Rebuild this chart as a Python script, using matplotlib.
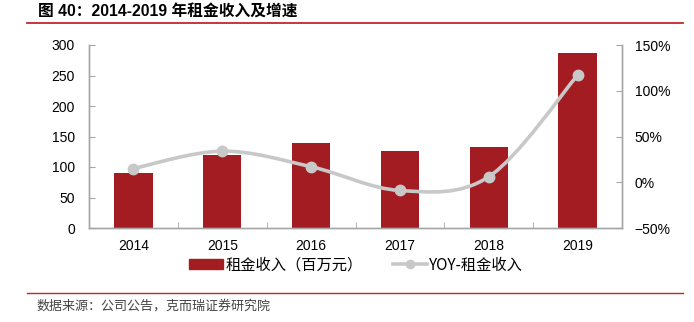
import matplotlib
matplotlib.use("Agg")
import matplotlib.pyplot as plt
from matplotlib.path import Path
from matplotlib.patches import PathPatch, Patch
from matplotlib.lines import Line2D
import numpy as np

years = ["2014", "2015", "2016", "2017", "2018", "2019"]
rent = [90, 120, 139, 126, 133, 287]
yoy = [15, 34, 17, -9, 6, 117]
left_ticks = [0, 50, 100, 150, 200, 250, 300]
right_ticks = [-50, 0, 50, 100, 150]

title = "图 40：2014-2019 年租金收入及增速"
source = "数据来源：公司公告，克而瑞证券研究院"
bar_label = "租金收入（百万元）"
line_label = "YOY-租金收入"

BAR = "#A31C22"
LINE = "#C8C8C8"
AXC = "#A6A6A6"
RED = "#C0272D"
CJK = ["Noto Sans CJK SC", "DejaVu Sans"]
LAT = ["Liberation Sans", "Noto Sans CJK SC"]

plt.rcParams["font.family"] = LAT

fig = plt.figure(figsize=(6.94, 3.22), dpi=100)
ax = fig.add_axes([89/694, 1-228/322, (622-89)/694, (228-45)/322])
ax2 = ax.twinx()

x = np.arange(len(years))
ax.bar(x, rent, width=0.43, color=BAR, zorder=2)
ax.set_xlim(-0.5, len(years)-0.5)
ax.set_ylim(0, 300)
ax.set_yticks(left_ticks)
ax.set_xticks(x)
ax.set_xticklabels(years)
ax.set_xticks(np.arange(len(years)+1)-0.5, minor=True)
ax.tick_params(axis="x", which="major", length=0, pad=8, labelsize=10)
ax.tick_params(axis="x", which="minor", length=4, direction="in", color=AXC)
ax.tick_params(axis="y", length=4, direction="in", color=AXC, pad=10, labelsize=10)

ax2.set_ylim(-50, 150)
ax2.set_yticks(right_ticks)
ax2.set_yticklabels([f"{v}%" if v >= 0 else f"\u2212{abs(v)}%" for v in right_ticks])
ax2.tick_params(axis="y", length=4, direction="in", color=AXC, pad=9, labelsize=10)

for a in (ax, ax2):
    a.spines["top"].set_visible(False)
    for s in ("left", "right", "bottom"):
        a.spines[s].set_color(AXC)
        a.spines[s].set_linewidth(1.0)

# smoothed line (Catmull-Rom -> cubic Bezier), drawn by matplotlib Path
pts = np.column_stack([x, yoy]).astype(float)
ext = np.vstack([pts[0], pts, pts[-1]])
verts = [tuple(pts[0])]
codes = [Path.MOVETO]
for i in range(len(pts)-1):
    p0, p1, p2, p3 = ext[i], ext[i+1], ext[i+2], ext[i+3]
    c1 = p1 + (p2 - p0) / 6.0
    c2 = p2 - (p3 - p1) / 6.0
    verts += [tuple(c1), tuple(c2), tuple(p2)]
    codes += [Path.CURVE4]*3
ax2.add_patch(PathPatch(Path(verts, codes), facecolor="none", edgecolor=LINE,
                        linewidth=2.6, zorder=3, capstyle="round"))
ax2.plot(x, yoy, linestyle="none", marker="o", markersize=7.5, color=LINE, zorder=4)

# title & lines
fig.text(38/694, 1-12/322, title, fontsize=11.3, fontweight="bold",
         family=["Liberation Sans", "Noto Sans CJK SC"], va="center", ha="left")
fig.add_artist(Line2D([27/694, 683/694], [1-23/322, 1-23/322], color=RED, lw=1.3))
fig.add_artist(Line2D([27/694, 683/694], [1-293/322, 1-293/322], color=RED, lw=1.0))
fig.text(37/694, 1-306/322, source, fontsize=9.4, family=CJK, color="#444444",
         va="center", ha="left")

handles = [Patch(facecolor=BAR, edgecolor=BAR),
           Line2D([], [], color=LINE, lw=2.6, marker="o", markersize=6)]
fig.legend(handles, [bar_label, line_label], loc="center",
           bbox_to_anchor=(356/694, 1-265/322), ncol=2, frameon=False,
           prop={"family": CJK, "size": 11}, handlelength=2.2, handleheight=0.55,
           handletextpad=0.15, columnspacing=2.0)

fig.savefig("out.png", dpi=100)
